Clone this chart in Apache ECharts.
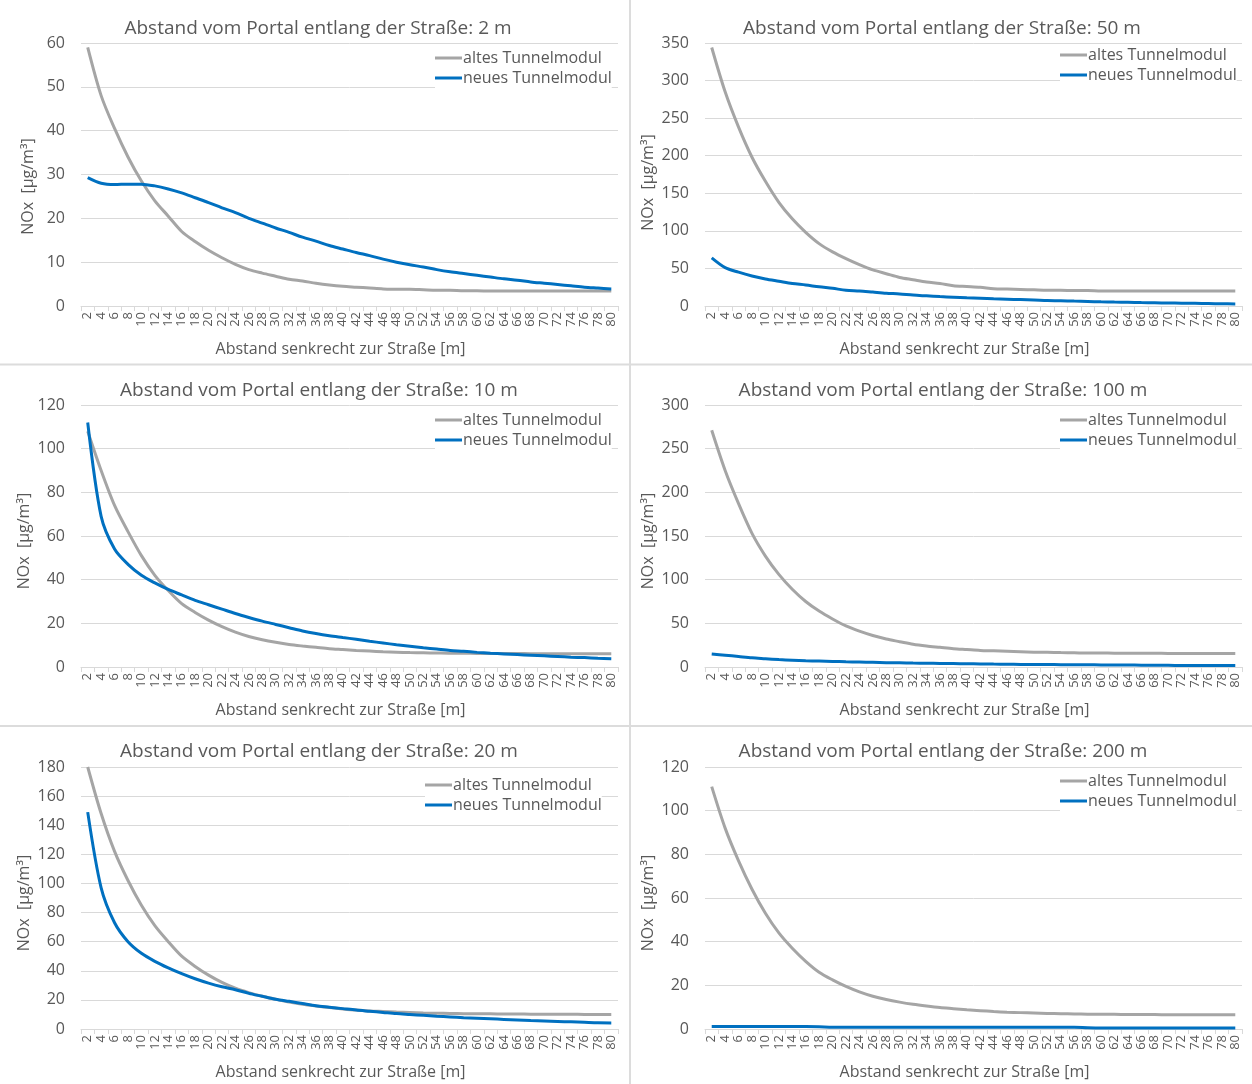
<!DOCTYPE html>
<html>
<head>
<meta charset="utf-8">
<script src="https://cdn.jsdelivr.net/npm/echarts@6/dist/echarts.min.js"></script>
<style>
html,body{margin:0;padding:0;background:#fff;}
#main{width:1252px;height:1084px;}
</style>
</head>
<body>
<div id="main"></div>
<script>
const categories = ['2','4','6','8','10','12','14','16','18','20','22','24','26','28','30','32','34','36','38','40','42','44','46','48','50','52','54','56','58','60','62','64','66','68','70','72','74','76','78','80'];

const seriesNames = ['altes Tunnelmodul', 'neues Tunnelmodul'];

const panelTitles = [
  'Abstand vom Portal entlang der Straße: 2 m',
  'Abstand vom Portal entlang der Straße: 50 m',
  'Abstand vom Portal entlang der Straße: 10 m',
  'Abstand vom Portal entlang der Straße: 100 m',
  'Abstand vom Portal entlang der Straße: 20 m',
  'Abstand vom Portal entlang der Straße: 200 m'
];

const yAxisMax = [60, 350, 120, 300, 180, 120];
const yAxisInterval = [10, 50, 20, 50, 20, 20];

// 2 m
const old2 = [59, 48, 40.5, 34, 28.5, 24, 20.5, 17, 14.7, 12.7, 11, 9.5, 8.3, 7.5, 6.8, 6.1, 5.7, 5.2, 4.8, 4.5, 4.3, 4.1, 3.9, 3.8, 3.8, 3.7, 3.6, 3.6, 3.5, 3.5, 3.4, 3.4, 3.4, 3.4, 3.4, 3.4, 3.4, 3.4, 3.4, 3.4];
const new2 = [29.3, 28, 27.7, 27.8, 27.8, 27.4, 26.7, 25.8, 24.7, 23.6, 22.4, 21.3, 20, 18.9, 17.8, 16.8, 15.7, 14.8, 13.8, 13, 12.2, 11.5, 10.7, 10, 9.4, 8.9, 8.3, 7.8, 7.4, 7, 6.6, 6.2, 5.9, 5.5, 5.2, 4.9, 4.6, 4.3, 4.1, 3.9];
// 50 m
const old50 = [344, 285, 238, 198, 166, 138, 116, 98, 83, 72, 63, 55, 48, 43, 38, 35, 32, 30, 27, 26, 25, 23, 22.5, 22, 21.5, 21, 21, 20.5, 20.5, 20, 20, 20, 20, 20, 20, 20, 20, 20, 20, 20];
const new50 = [64, 51, 45, 40, 36, 33, 30, 28, 25.5, 23.5, 21, 20, 18.5, 17, 16, 14.5, 13.5, 12.5, 11.8, 11, 10.3, 9.5, 9, 8.5, 8, 7.3, 7, 6.5, 6, 5.5, 5.2, 5, 4.5, 4.3, 4, 3.7, 3.5, 3.3, 3, 2.8];
// 10 m
const old10 = [108, 90, 74, 62, 51, 42, 35, 29, 25, 21.5, 18.5, 16, 14, 12.5, 11.3, 10.3, 9.6, 9, 8.4, 8, 7.6, 7.3, 7, 6.8, 6.6, 6.5, 6.4, 6.3, 6.3, 6.2, 6.2, 6.2, 6.2, 6.1, 6.1, 6.1, 6.1, 6.1, 6.1, 6.1];
const new10 = [112, 69, 54, 47, 42, 38.5, 35.5, 33, 30.5, 28.5, 26.5, 24.5, 22.7, 21, 19.5, 18, 16.5, 15.3, 14.3, 13.5, 12.7, 11.8, 11, 10.2, 9.5, 8.8, 8.2, 7.6, 7.2, 6.7, 6.3, 6, 5.7, 5.4, 5.1, 4.8, 4.5, 4.3, 4, 3.8];
// 100 m
const old100 = [271, 225, 187, 153, 127, 106, 89, 75, 64, 55, 47, 41, 36, 32, 29, 26, 24, 22.5, 21, 20, 19, 18.5, 18, 17.5, 17, 16.8, 16.5, 16.3, 16, 16, 15.8, 15.8, 15.7, 15.7, 15.6, 15.6, 15.5, 15.5, 15.5, 15.5];
const new100 = [15, 13.5, 12, 10.5, 9.5, 8.5, 7.8, 7.2, 6.8, 6.4, 6, 5.7, 5.4, 5, 4.8, 4.5, 4.3, 4.1, 3.9, 3.7, 3.5, 3.3, 3.2, 3, 2.9, 2.8, 2.7, 2.6, 2.5, 2.4, 2.3, 2.2, 2.1, 2, 1.9, 1.8, 1.8, 1.7, 1.6, 1.6];
// 20 m
const old20 = [180, 148, 122, 102, 85, 71, 60, 50, 43, 37, 32, 28, 25, 22.5, 20.5, 18.5, 17, 15.8, 14.7, 13.8, 13, 12.4, 12, 11.6, 11.3, 11, 10.8, 10.7, 10.5, 10.4, 10.4, 10.3, 10.3, 10.2, 10.2, 10.1, 10.1, 10, 10, 10];
const new20 = [149, 97, 73, 60, 52, 46.5, 42, 38, 34.5, 31.5, 29, 27, 24.5, 22.5, 20.5, 19, 17.5, 16, 15, 14, 13, 12.2, 11.4, 10.6, 10, 9.4, 8.8, 8.3, 7.8, 7.4, 7, 6.6, 6.2, 5.8, 5.5, 5.2, 4.9, 4.6, 4.3, 4.2];
// 200 m
const old200 = [111, 92, 77, 64, 53, 44, 37, 31, 26, 22.5, 19.5, 17, 15, 13.5, 12.3, 11.3, 10.5, 9.8, 9.3, 8.8, 8.4, 8, 7.7, 7.5, 7.3, 7.1, 7, 6.9, 6.8, 6.7, 6.7, 6.6, 6.6, 6.6, 6.5, 6.5, 6.5, 6.5, 6.5, 6.5];
const new200 = [1.1, 1.1, 1.1, 1.1, 1.1, 1.1, 1.1, 1.1, 1.0, 0.8, 0.8, 0.8, 0.8, 0.8, 0.8, 0.8, 0.8, 0.8, 0.8, 0.8, 0.8, 0.8, 0.8, 0.8, 0.8, 0.8, 0.8, 0.8, 0.6, 0.5, 0.5, 0.5, 0.5, 0.5, 0.5, 0.5, 0.5, 0.5, 0.5, 0.5];

const panelOld = [old2, old50, old10, old100, old20, old200];
const panelNew = [new2, new50, new10, new100, new20, new200];

// ---- layout ----
const FONT = '"Open Sans", "Noto Sans", sans-serif';
const TXT = '#595959';
const GRIDC = '#D9D9D9';
const grids = [
  {left: 81,  top: 43,  w: 537, h: 263},
  {left: 705, top: 43,  w: 537, h: 263},
  {left: 81,  top: 405, w: 537, h: 262},
  {left: 705, top: 405, w: 537, h: 262},
  {left: 81,  top: 767, w: 537, h: 262},
  {left: 705, top: 767, w: 537, h: 262}
];
const titleCenter = [318, 942, 319, 943, 319, 943];
const titleTop = [19, 19, 381, 381, 742, 742];
const legendPos = [
  {left: 435, top: 48},
  {left: 1060, top: 45},
  {left: 435, top: 410},
  {left: 1060, top: 410},
  {left: 425, top: 775},
  {left: 1060, top: 771}
];
const yNameGap = [45, 49, 49, 49, 49, 49];
const yNameShift = [24, 16, 10, 10, 10, 10];

const option = {
  backgroundColor: '#fff',
  animation: false,
  title: [], legend: [], grid: [], xAxis: [], yAxis: [], series: [],
  graphic: [
    {type: 'line', shape: {x1: 630, y1: 0, x2: 630, y2: 1084}, style: {stroke: '#DCDCDC', lineWidth: 2}},
    {type: 'line', shape: {x1: 0, y1: 364.5, x2: 1252, y2: 364.5}, style: {stroke: '#DCDCDC', lineWidth: 2}},
    {type: 'line', shape: {x1: 0, y1: 726, x2: 1252, y2: 726}, style: {stroke: '#DCDCDC', lineWidth: 2}}
  ]
};

for (let i = 0; i < 6; i++) {
  const g = grids[i];
  option.grid.push({left: g.left, top: g.top, width: g.w, height: g.h, containLabel: false});
  option.title.push({
    text: panelTitles[i], left: titleCenter[i], top: titleTop[i], textAlign: 'center', padding: 0,
    textStyle: {fontFamily: FONT, fontSize: 19, fontWeight: 'normal', color: TXT}
  });
  option.legend.push({
    data: seriesNames, orient: 'vertical', left: legendPos[i].left, top: legendPos[i].top,
    padding: 0, itemGap: 0, itemWidth: 27, itemHeight: 3, icon: 'rect',
    backgroundColor: '#fff',
    textStyle: {fontFamily: FONT, fontSize: 16, color: TXT, lineHeight: 20, padding: [0, 0, 0, -4]}
  });
  option.xAxis.push({
    type: 'category', gridIndex: i, data: categories, boundaryGap: true,
    name: 'Abstand senkrecht zur Straße [m]', nameLocation: 'middle', nameGap: 35,
    nameTextStyle: {fontFamily: FONT, fontSize: 16, color: TXT, padding: [0, 18, 0, 0]},
    axisLine: {lineStyle: {color: GRIDC, width: 1}},
    axisTick: {show: true, length: 5, lineStyle: {color: GRIDC}},
    axisLabel: {interval: 0, rotate: 90, fontFamily: FONT, fontSize: 13, color: TXT, margin: 6},
    splitLine: {show: false}
  });
  option.yAxis.push({
    type: 'value', gridIndex: i, min: 0, max: yAxisMax[i], interval: yAxisInterval[i],
    name: 'NOx  [µg/m³]', nameLocation: 'middle', nameGap: yNameGap[i], nameRotate: 90,
    nameTextStyle: {fontFamily: FONT, fontSize: 16, color: TXT, padding: [0, yNameShift[i], 0, 0]},
    axisLine: {show: false}, axisTick: {show: false},
    axisLabel: {fontFamily: FONT, fontSize: 16, color: TXT, margin: 16},
    splitLine: {show: true, lineStyle: {color: GRIDC, width: 1}}
  });
  option.series.push({
    type: 'line', name: seriesNames[0], xAxisIndex: i, yAxisIndex: i, data: panelOld[i],
    showSymbol: false, symbol: 'none', smooth: 0.3, color: '#A5A5A5',
    lineStyle: {color: '#A5A5A5', width: 3}, z: 2
  });
  option.series.push({
    type: 'line', name: seriesNames[1], xAxisIndex: i, yAxisIndex: i, data: panelNew[i],
    showSymbol: false, symbol: 'none', smooth: 0.3, color: '#0070C0',
    lineStyle: {color: '#0070C0', width: 3}, z: 3
  });
}

const chart = echarts.init(document.getElementById('main'), null, {renderer: 'canvas'});
chart.setOption(option);
</script>
</body>
</html>
